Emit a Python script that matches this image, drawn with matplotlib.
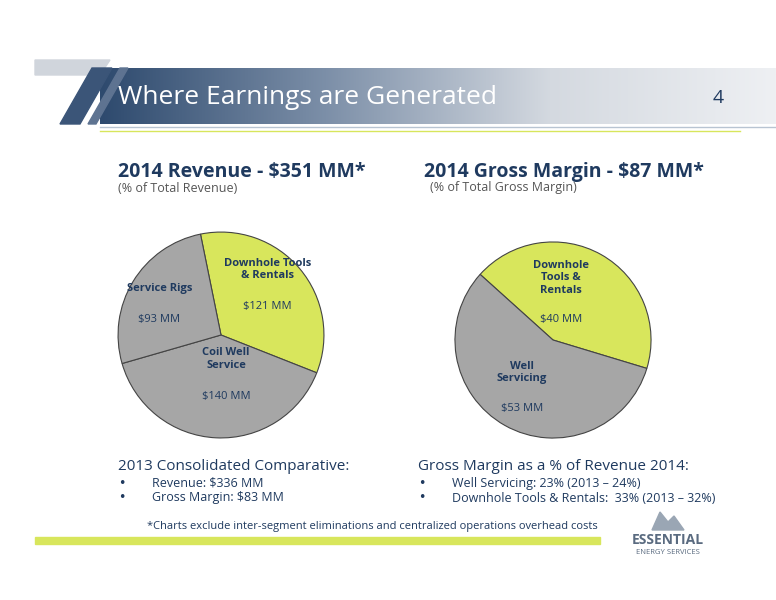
import matplotlib
matplotlib.use("Agg")
import matplotlib.pyplot as plt
import numpy as np
from matplotlib.patches import Rectangle, Polygon

rev_labels = ["Downhole Tools\n& Rentals", "Coil Well\nService", "Service Rigs"]
rev_values = [121, 140, 93]
rev_text = ["$121 MM", "$140 MM", "$93 MM"]
gm_labels = ["Downhole\nTools &\nRentals", "Well\nServicing"]
gm_values = [40, 53]
gm_text = ["$40 MM", "$53 MM"]

GREEN = "#D8E65C"
GRAY = "#A6A6A6"
NAVY = "#1F3A5F"

W, H = 776, 600
fig = plt.figure(figsize=(W/100, H/100), dpi=100)
bg = fig.add_axes([0, 0, 1, 1])
bg.set_xlim(0, W); bg.set_ylim(H, 0); bg.axis("off")

# header band with gradient
grad = np.linspace(0, 1, 256).reshape(1, -1)
from matplotlib.colors import LinearSegmentedColormap
cmap = LinearSegmentedColormap.from_list("h", ["#2E4A6E", "#7C8FA8", "#D4D9E0", "#EEF0F3"])
bg.imshow(grad, extent=(100, W, 124, 68), aspect="auto", cmap=cmap, zorder=1)
bg.add_patch(Polygon([[35, 60], [110, 60], [100, 75], [35, 75]], color="#D0D5DC", zorder=1))
bg.add_patch(Polygon([[60, 124], [92, 68], [112, 68], [80, 124]], color="#3B5578", zorder=2))
bg.add_patch(Polygon([[88, 124], [120, 68], [128, 68], [96, 124]], color="#5E7391", zorder=2))
bg.plot([100, W], [127, 127], color="#B8C4D2", lw=1, zorder=2)
bg.plot([100, 740], [131, 131], color=GREEN, lw=1, zorder=2)
bg.text(118, 98, "Where Earnings are Generated", color="white", fontsize=19,
        va="center", ha="left", family="Open Sans", zorder=3)
bg.text(718, 98, "4", color=NAVY, fontsize=14, va="center", ha="center", family="Open Sans", zorder=3)

bg.text(118, 172, "2014 Revenue - $351 MM*", color=NAVY, fontsize=14, fontweight="bold", va="center", family="Open Sans")
bg.text(118, 188, "(% of Total Revenue)", color="#555555", fontsize=9, va="center", family="Open Sans")
bg.text(424, 172, "2014 Gross Margin - $87 MM*", color=NAVY, fontsize=14, fontweight="bold", va="center", family="Open Sans")
bg.text(430, 188, "(% of Total Gross Margin)", color="#555555", fontsize=9, va="center", family="Open Sans")

bg.text(118, 466, "2013 Consolidated Comparative:", color=NAVY, fontsize=11, va="center", family="Open Sans")
bg.text(118, 483, "•", color=NAVY, fontsize=9, va="center")
bg.text(152, 483, "Revenue: $336 MM", color=NAVY, fontsize=9, va="center", family="Open Sans")
bg.text(118, 498, "•", color=NAVY, fontsize=9, va="center")
bg.text(152, 498, "Gross Margin: $83 MM", color=NAVY, fontsize=9, va="center", family="Open Sans")
bg.text(418, 466, "Gross Margin as a % of Revenue 2014:", color=NAVY, fontsize=11, va="center", family="Open Sans")
bg.text(418, 483, "•", color=NAVY, fontsize=9, va="center")
bg.text(452, 483, "Well Servicing: 23% (2013 – 24%)", color=NAVY, fontsize=9, va="center", family="Open Sans")
bg.text(418, 498, "•", color=NAVY, fontsize=9, va="center")
bg.text(452, 498, "Downhole Tools & Rentals:  33% (2013 – 32%)", color=NAVY, fontsize=9, va="center", family="Open Sans")

bg.text(372, 527, "*Charts exclude inter-segment eliminations and centralized operations overhead costs",
        color=NAVY, fontsize=8, ha="center", va="center", family="Open Sans")
bg.add_patch(Rectangle((35, 537), 565, 7, color=GREEN))
bg.text(668, 540, "ESSENTIAL", color="#5A6B80", fontsize=10, fontweight="bold", ha="center", va="center", family="Open Sans")
bg.text(668, 553, "ENERGY SERVICES", color="#5A6B80", fontsize=5.5, ha="center", va="center", family="Open Sans")
bg.add_patch(Polygon([[652, 530], [660, 512], [668, 522], [674, 516], [684, 530]], color="#9AA6B4"))

def pie_axes(cx, cy, r):
    return fig.add_axes([(cx - r)/W, 1 - (cy + r)/H, 2*r/W, 2*r/H])

a1 = pie_axes(221, 335, 105)
a1.pie(rev_values, colors=[GREEN, GRAY, GRAY], startangle=101.5, counterclock=False,
       wedgeprops=dict(edgecolor="#444444", linewidth=0.8), radius=1)
a1.set_xlim(-1.02, 1.02); a1.set_ylim(-1.02, 1.02); a1.set_aspect("equal")
pos1 = [(0.45, 0.42), (0.05, -0.45), (-0.6, 0.3)]
for (x, y), l, t in zip(pos1, rev_labels, rev_text):
    a1.text(x, y + 0.1, l, ha="center", va="bottom", fontsize=8, fontweight="bold", color=NAVY, family="Open Sans")
    a1.text(x, y - 0.2, t, ha="center", va="bottom", fontsize=8, color=NAVY, family="Open Sans")

a2 = pie_axes(553, 340, 100)
a2.pie(gm_values, colors=[GREEN, GRAY], startangle=138, counterclock=False,
       wedgeprops=dict(edgecolor="#444444", linewidth=0.8), radius=1)
a2.set_xlim(-1.02, 1.02); a2.set_ylim(-1.02, 1.02); a2.set_aspect("equal")
pos2 = [(0.08, 0.35), (-0.32, -0.55)]
for (x, y), l, t in zip(pos2, gm_labels, gm_text):
    a2.text(x, y + 0.1, l, ha="center", va="bottom", fontsize=8, fontweight="bold", color=NAVY, family="Open Sans")
    a2.text(x, y - 0.2, t, ha="center", va="bottom", fontsize=8, color=NAVY, family="Open Sans")

fig.savefig("out.png", dpi=100)
